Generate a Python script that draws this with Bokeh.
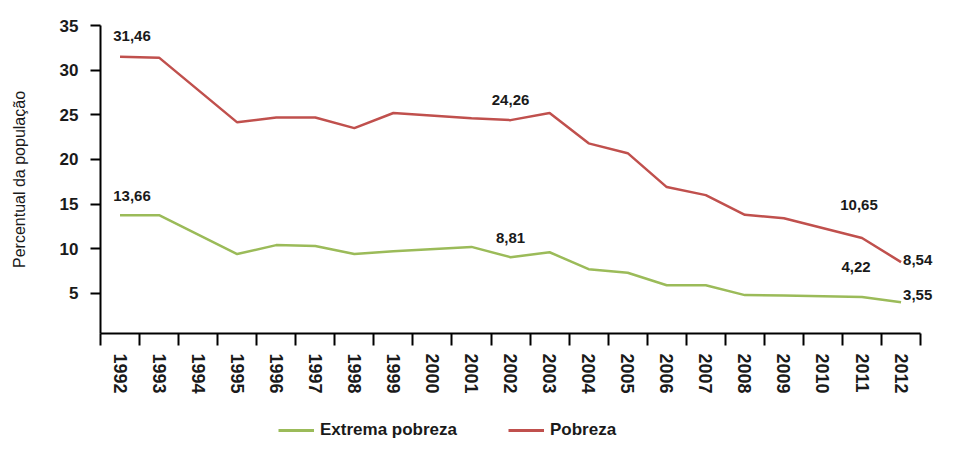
from bokeh.plotting import figure
from bokeh.layouts import column
from bokeh.models import Range1d, FixedTicker, Legend, LegendItem, Label
from bokeh.embed import file_html
from bokeh.resources import INLINE

# ---- data ----
anos = list(range(1992, 2013))                       # tick labels (categories)
anos_pnad = [1992, 1993, 1995, 1996, 1997, 1998, 1999, 2001, 2002,
             2003, 2004, 2005, 2006, 2007, 2008, 2009, 2011, 2012]
pobreza = [31.5, 31.4, 24.15, 24.7, 24.7, 23.5, 25.2, 24.6, 24.4,
           25.2, 21.8, 20.7, 16.9, 16.0, 13.8, 13.4, 11.2, 8.5]
extrema = [13.75, 13.75, 9.4, 10.4, 10.3, 9.4, 9.7, 10.2, 9.05,
           9.6, 7.7, 7.3, 5.9, 5.9, 4.8, 4.75, 4.6, 4.0]
y_ticks = [5, 10, 15, 20, 25, 30, 35]

# annotations: (series, year, text)
rot_series = ["pobreza", "extrema", "pobreza", "extrema", "pobreza", "extrema", "pobreza", "extrema"]
rot_anos = [1992, 1992, 2002, 2002, 2011, 2011, 2012, 2012]
rot_textos = ["31,46", "13,66", "24,26", "8,81", "10,65", "4,22", "8,54", "3,55"]
rot_align = ["center"] * 6 + ["left", "left"]
rot_dx = [12, 12, 0, 0, -3, -6, 2, 2]
rot_dy = [21, 19, 20, 19, 33, 30, 2, 7]

FONT = "Liberation Sans"
TXT = "#1a1a1a"
RED = "#C0504D"
GREEN = "#9BBB59"

W = 940
p = figure(width=W, height=405, output_backend="svg", toolbar_location=None,
           x_range=Range1d(1991.5, 2013.01), y_range=Range1d(0.5, 35),
           min_border_left=100, min_border_right=0, min_border_top=25,
           min_border_bottom=72, background_fill_color="white",
           border_fill_color="white")
p.outline_line_color = None
p.xgrid.grid_line_color = None
p.ygrid.grid_line_color = None

g = p.line(anos_pnad, extrema, line_color=GREEN, line_width=2.5)
r = p.line(anos_pnad, pobreza, line_color=RED, line_width=2.5)

# x axis: labels at category centres, tick marks at boundaries
xa = p.xaxis[0]
xa.bounds = (anos[0] - 0.5, anos[-1] + 0.5)
xa.ticker = FixedTicker(ticks=anos, minor_ticks=[a - 0.5 for a in anos] + [anos[-1] + 0.5])
xa.major_label_overrides = {a: str(a) for a in anos}
xa.major_label_orientation = "vertical"
xa.major_tick_out = 0
xa.major_tick_in = 0
xa.major_tick_line_color = None
xa.minor_tick_out = 12
xa.minor_tick_in = 0
xa.minor_tick_line_color = "black"
xa.minor_tick_line_width = 2
xa.axis_line_color = "black"
xa.axis_line_width = 2
xa.major_label_standoff = 8
xa.major_label_text_font = FONT
xa.major_label_text_font_style = "bold"
xa.major_label_text_font_size = "18px"
xa.major_label_text_color = TXT

ya = p.yaxis[0]
ya.ticker = FixedTicker(ticks=y_ticks)
ya.minor_tick_line_color = None
ya.major_tick_out = 10
ya.major_tick_in = 0
ya.major_tick_line_color = "black"
ya.major_tick_line_width = 2
ya.axis_line_color = "black"
ya.axis_line_width = 2
ya.major_label_standoff = 12
ya.major_label_text_font = FONT
ya.major_label_text_font_style = "bold"
ya.major_label_text_font_size = "17px"
ya.major_label_text_color = TXT
ya.axis_label = "Percentual da população"
ya.axis_label_text_font = FONT
ya.axis_label_text_font_style = "normal"
ya.axis_label_text_font_size = "16px"
ya.axis_label_text_color = TXT
ya.axis_label_standoff = 29

series = {"pobreza": pobreza, "extrema": extrema}
for s, a, t, al, dx, dy in zip(rot_series, rot_anos, rot_textos, rot_align, rot_dx, rot_dy):
    v = series[s][anos_pnad.index(a)]
    p.add_layout(Label(x=a, y=v, text=t, x_offset=dx, y_offset=dy,
                       text_align=al, text_baseline="middle",
                       text_font=FONT, text_font_style="bold",
                       text_font_size="15px", text_color=TXT))

# ---- legend strip below the chart ----
p2 = figure(width=W, height=35, output_backend="svg", toolbar_location=None,
            x_range=Range1d(0, 1), y_range=Range1d(0, 1),
            min_border=0, background_fill_color="white", border_fill_color="white")
p2.outline_line_color = None
p2.axis.visible = False
p2.grid.visible = False
g2 = p2.line(anos_pnad, extrema, line_color=GREEN, line_width=3)
r2 = p2.line(anos_pnad, pobreza, line_color=RED, line_width=3)
legend = Legend(items=[LegendItem(label="Extrema pobreza", renderers=[g2]),
                       LegendItem(label="Pobreza", renderers=[r2])],
                location=(178, 0), orientation="horizontal",
                padding=0, margin=0, spacing=51, label_standoff=6,
                glyph_width=36, glyph_height=20,
                border_line_color=None, background_fill_alpha=0,
                label_text_font=FONT, label_text_font_style="bold",
                label_text_font_size="17px", label_text_color=TXT)
p2.add_layout(legend, "center")

open("out.html", "w").write(file_html(column(p, p2, spacing=0), INLINE))
